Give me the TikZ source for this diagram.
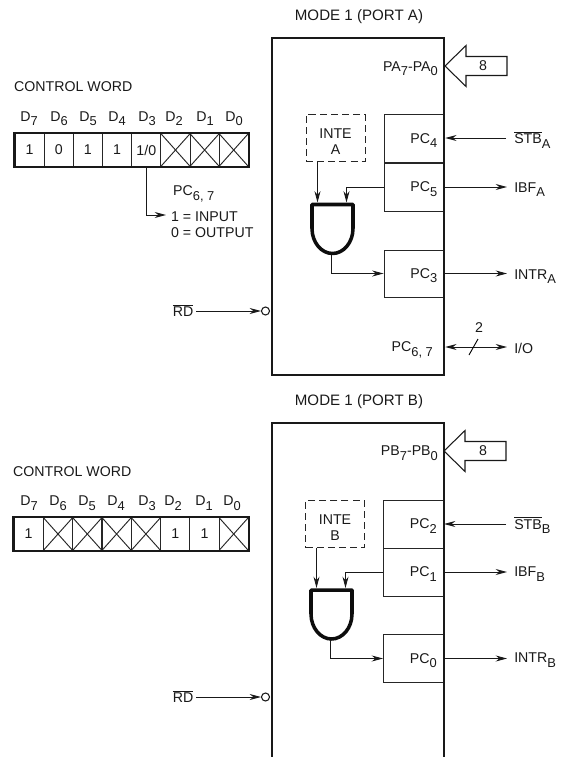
\documentclass[tikz,border=0pt]{standalone}
\usepackage{fontspec}
\setmainfont{Liberation Sans}
\usetikzlibrary{arrows.meta, positioning, calc, fit}

\newcommand{\subs}[1]{\raisebox{-0.55ex}[0pt][0pt]{\fontsize{11}{12}\selectfont #1}}
\newcommand{\barred}[1]{\leavevmode\vbox{\hrule height 0.7pt \kern 1.2pt\hbox{#1}}}

\tikzset{
  every node/.style={font=\fontsize{12.1}{14}\selectfont, inner sep=2.5pt, text=black!90},
  titlelbl/.style={font=\fontsize{12.9}{14}\selectfont},
  siglbl/.style={anchor=west, inner xsep=6pt},
  sig/.style={draw=black!90, line width=0.8pt, -{Stealth[length=3.4mm, width=1.8mm]}},
  dsig/.style={draw=black!90, line width=0.8pt, {Stealth[length=3.4mm, width=1.8mm]}-{Stealth[length=3.4mm, width=1.8mm]}},
  mainbox/.style={draw=black!90, line width=2.1pt},
  pcbox/.style={draw=black!85, line width=0.8pt, minimum height=1.44cm, text width=1.4cm, align=right, inner xsep=0.2cm, inner ysep=0pt},
  intebox/.style={draw=black!85, line width=0.8pt, dash pattern=on 6pt off 3.5pt, minimum width=1.77cm, minimum height=1.42cm, align=center, inner sep=0pt},
  wordcell/.style={draw=black!85, line width=0.8pt, minimum width=0.875cm, minimum height=0.98cm, inner sep=0pt},
  xcell/.style={wordcell, path picture={
    \draw[line width=0.8pt] (path picture bounding box.north west) -- (path picture bounding box.south east);
    \draw[line width=0.8pt] (path picture bounding box.south west) -- (path picture bounding box.north east);}},
  wordframe/.style={draw=black!90, line width=2pt, inner sep=0pt},
  notdot/.style={circle, draw=black!90, line width=0.9pt, minimum size=0.24cm, inner sep=0pt},
  andgate/.pic={
    \draw[draw=black!95, line width=3pt, line join=round] (-20.5,0) -- (20.5,0) -- (20.5,24)
      .. controls (20.5,38) and (11,49) .. (0,49)
      .. controls (-11,49) and (-20.5,38) .. (-20.5,24) -- cycle;
    \coordinate (-in1) at (-15,-2);
    \coordinate (-in2) at (14,-2);
    \coordinate (-out) at (-1,50);
  },
  busarrow/.pic={
    \draw[draw=black!90, line width=0.9pt, line join=miter] (0,0) -- (21,-20.5) -- (21,-9.5) -- (62,-9.5)
      -- (62,9.5) -- (21,9.5) -- (21,20.5) -- cycle;
  }
}

\begin{document}
\begin{tikzpicture}[x=0.03cm, y=-0.03cm]
    \useasboundingbox (0,0) rectangle (569,757);

    \node[titlelbl] (titleA) at (359,17) {MODE 1 (PORT A)};
    \node[anchor=west] (wordtitleA) at (11,87) {CONTROL WORD};

    \node (dA7) at (29,117) {D\subs{7}};
    \node (dA6) at (59,117) {D\subs{6}};
    \node (dA5) at (88,117) {D\subs{5}};
    \node (dA4) at (117,117) {D\subs{4}};
    \node (dA3) at (147,117) {D\subs{3}};
    \node (dA2) at (174,117) {D\subs{2}};
    \node (dA1) at (205,117) {D\subs{1}};
    \node (dA0) at (234,117) {D\subs{0}};

    \node[wordcell] (cA7) at (29.5,150) {1};
    \node[wordcell] (cA6) at (58.7,150) {0};
    \node[wordcell] (cA5) at (87.9,150) {1};
    \node[wordcell] (cA4) at (117.1,150) {1};
    \node[wordcell] (cA3) at (146.3,150) {1/0};
    \node[xcell] (cA2) at (175.5,150) {};
    \node[xcell] (cA1) at (204.6,150) {};
    \node[xcell] (cA0) at (233.7,150) {};
    \node[wordframe, fit=(cA7)(cA0)] (wordA) {};

    \node[anchor=west] (pc67A) at (170,191) {PC\subs{6, 7}};
    \node[anchor=west, align=left] (inoutA) at (168,224.5) {1 = INPUT\\0 = OUTPUT};
    \coordinate (inoutAend) at (166,215);
    \draw[sig] (cA3.south) |- (inoutAend);

    \node[notdot] (notA) at (265.5,311) {};
    \node (rdA) at (183,311) {\barred{RD}};
    \draw[sig] (rdA) -- (notA);

    \node[pcbox] (pc4) at (414,138.5) {PC\subs{4}};
    \node[pcbox] (pc5) at (414,187) {PC\subs{5}};
    \node[pcbox, minimum height=1.41cm] (pc3) at (414,273.5) {PC\subs{3}};
    \node[mainbox, minimum width=5.16cm, minimum height=10.11cm] (mainA) at (358,206.5) {};

    \node[anchor=east] (paA) at (441,67) {PA\subs{7}-PA\subs{0}};
    \pic (busA) at (445,66) {busarrow};
    \node (eightA) at (483,66) {8};

    \node[intebox] (inteA) at (335.5,138) {\rule{0pt}{15pt}INTE\\A};
    \pic (gateA) at (332.5,204.5) {andgate};
    \draw[sig] (gateA-in1 |- inteA.south) -- (gateA-in1);
    \draw[sig] (pc5.west) -| (gateA-in2);
    \draw[sig] (gateA-out) |- (pc3.west);

    \node[siglbl] (stbA) at (507,138) {\barred{STB}\subs{A}};
    \node[siglbl] (ibfA) at (507,188) {IBF\subs{A}};
    \node[siglbl] (intrA) at (507,275) {INTR\subs{A}};
    \node[siglbl] (ioA) at (507,348) {I/O};
    \node[anchor=east] (pc67lblA) at (436,347) {PC\subs{6, 7}};
    \coordinate (stbAend) at (506,138);
    \coordinate (ioAend) at (507,347);
    \draw[sig] (stbAend) -- (stbAend -| mainA.east);
    \draw[sig] (pc5.east) -- (pc5.east -| ibfA.west);
    \draw[sig] (pc3.east) -- (pc3.east -| intrA.west);
    \draw[dsig] (ioAend -| mainA.east) -- (ioAend);
    \node (twoA) at (479,328) {2};
    \draw[line width=0.8pt] (469,355) -- (478,339);

    \node[titlelbl] (titleB) at (359,402) {MODE 1 (PORT B)};
    \node[anchor=west] (wordtitleB) at (10,472) {CONTROL WORD};

    \node (dB7) at (29,501) {D\subs{7}};
    \node (dB6) at (58,501) {D\subs{6}};
    \node (dB5) at (87,501) {D\subs{5}};
    \node (dB4) at (116,501) {D\subs{4}};
    \node (dB3) at (147,501) {D\subs{3}};
    \node (dB2) at (173,501) {D\subs{2}};
    \node (dB1) at (204,501) {D\subs{1}};
    \node (dB0) at (232,501) {D\subs{0}};

    \node[wordcell] (cB7) at (28.5,534) {1};
    \node[xcell] (cB6) at (58,534) {};
    \node[xcell] (cB5) at (87.3,534) {};
    \node[xcell] (cB4) at (116.6,534) {};
    \node[xcell] (cB3) at (145.9,534) {};
    \node[wordcell] (cB2) at (175.2,534) {1};
    \node[wordcell] (cB1) at (204.5,534) {1};
    \node[xcell] (cB0) at (233.7,534) {};
    \node[wordframe, fit=(cB7)(cB0)] (wordB) {};

    \node[notdot] (notB) at (265.5,697) {};
    \node (rdB) at (183,697) {\barred{RD}};
    \draw[sig] (rdB) -- (notB);

    \node[pcbox] (pc2) at (413.5,524) {PC\subs{2}};
    \node[pcbox] (pc1) at (413.5,572) {PC\subs{1}};
    \node[pcbox] (pc0) at (413.5,658.5) {PC\subs{0}};
    \coordinate (mainBtl) at (272,423);
    \coordinate (mainBtr) at (444,423);
    \draw[mainbox, line cap=butt] (272,757) -- (mainBtl) -- (mainBtr) -- (444,757);

    \node[anchor=east] (pbB) at (441,451) {PB\subs{7}-PB\subs{0}};
    \pic (busB) at (444,451) {busarrow};
    \node (eightB) at (483,451) {8};

    \node[intebox] (inteB) at (335,524) {\rule{0pt}{15pt}INTE\\B};
    \pic (gateB) at (331.5,590) {andgate};
    \draw[sig] (gateB-in1 |- inteB.south) -- (gateB-in1);
    \draw[sig] (pc1.west) -| (gateB-in2);
    \draw[sig] (gateB-out) |- (pc0.west);

    \node[siglbl] (stbB) at (507,523) {\barred{STB}\subs{B}};
    \node[siglbl] (ibfB) at (507,572) {IBF\subs{B}};
    \node[siglbl] (intrB) at (507,658) {INTR\subs{B}};
    \coordinate (stbBend) at (506,524);
    \draw[sig] (stbBend) -- (stbBend -| mainBtr);
    \draw[sig] (pc1.east) -- (pc1.east -| ibfB.west);
    \draw[sig] (pc0.east) -- (pc0.east -| intrB.west);
\end{tikzpicture}
\end{document}
